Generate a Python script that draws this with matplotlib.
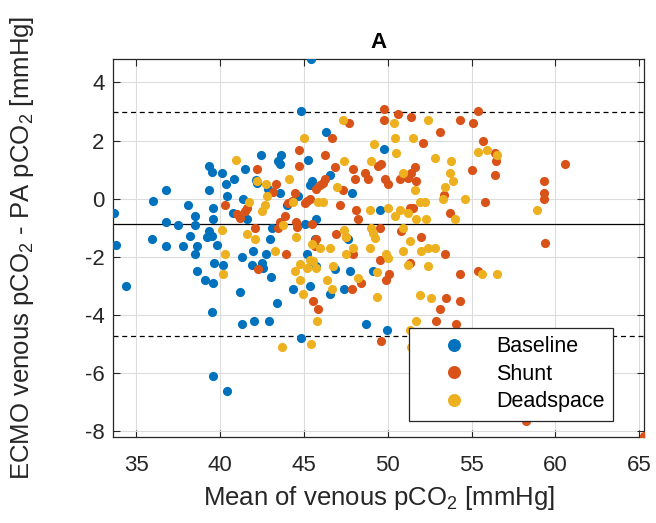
import numpy as np
import matplotlib
matplotlib.use("Agg")
from matplotlib import pyplot as plt

# Bland-Altman data (mean of venous pCO2, difference)
baseline_x = [
    33.65, 36.0, 36.8, 38.1, 36.8, 37.5, 35.95, 33.8, 36.8, 37.8, 34.4,
    45.45, 44.85, 46.3, 49.8,
    42.42, 43.61, 43.47, 43.57, 45.22, 39.35, 39.5, 40.14, 41.49, 40.83,
    46.55, 45.46, 45.36, 42.12, 42.18, 40.34, 47.88, 39.35, 40.44, 42.88,
    43.57, 44.66, 41.39, 43.97, 39.6, 38.51, 38.51, 40.79, 41.63, 39.6,
    49.56, 45.06, 45.71, 43.08, 38.21, 39.31, 39.5, 39.21, 42.98, 47.6,
    45.65, 38.61, 38.51, 39.8, 41.29, 41.98, 42.74, 45.16, 45.71, 39.64,
    40.2, 41.88, 42.48, 42.58, 38.61, 39.07, 39.6, 43.02, 41.19, 43.37,
    46.85, 47.74, 49.13, 45.36, 46.55, 47.38, 44.33, 45.45,
    39.5, 41.3, 42.0, 42.9, 39.6, 40.4, 48.7, 49.95, 44.8,
]
baseline_y = [
    -0.5, -0.09, 0.31, -0.2, -0.79, -0.9, -1.37, -1.6, -1.63, -1.63, -3.0,
    4.8, 3.0, 2.3, 1.7,
    1.52, 1.49, 1.29, 1.18, 1.32, 1.12, 0.92, 0.89, 1.01, 0.69,
    0.80, 0.61, 0.46, 0.66, 0.55, 0.51, 0.21, 0.30, 0.11, 0.32,
    0.20, 0.09, 0.0, -0.20, -0.31, -0.6, -0.92, -0.48, -0.71, -0.71,
    -0.40, -0.88, -0.69, -1.0, -1.28, -1.11, -1.28, -1.31, -1.40, -1.4,
    -1.4, -1.63, -1.91, -1.6, -1.99, -1.80, -1.91, -1.91, -2.32, -2.20,
    -2.29, -2.29, -2.20, -2.37, -2.49, -2.8, -2.91, -2.68, -3.21, -3.6,
    -2.43, -2.49, -2.49, -3.0, -3.29, -3.09, -3.09, -2.14,
    -3.9, -4.3, -4.2, -4.2, -6.1, -6.6, -4.3, -4.5, -4.8,
]

shunt_x = [
    47.7, 46.65, 49.8, 49.8, 50.6, 44.7,
    51.4, 54.3, 53.1, 52.1, 51.6, 51.4, 51.7, 53.35, 51.3, 51.5, 53.7,
    52.0, 53.4, 51.3, 54.3, 53.5, 54.3, 53.1, 52.9, 54.1, 51.2,
    55.4, 55.1, 55.7, 56.4, 56.45, 55.0, 56.4, 60.6, 59.3, 59.3, 59.3,
    55.8, 59.4, 55.4, 58.25, 65.3,
    46.23, 49.62, 49.42, 42.18, 44.72, 46.84, 47.94, 48.04, 48.63, 48.83,
    49.82, 50.02, 50.71, 46.25, 46.11, 45.95, 45.75, 43.33, 47.34, 43.17,
    44.46, 40.3, 41.59, 41.49, 44.27, 44.07, 45.16, 45.36, 45.06, 47.18,
    40.99, 41.19, 48.08, 48.23, 43.87, 43.57, 43.47, 44.52, 44.56, 45.46,
    42.08, 46.94, 49.52, 50.81, 45.75, 45.65, 43.91, 47.94, 49.52, 42.28,
    48.43, 50.08, 49.92, 47.84, 45.52, 45.85, 47.54,
    49.6,
]
shunt_y = [
    2.61, 2.09, 3.1, 2.7, 2.9, 1.69,
    2.8, 2.7, 2.3, 1.9, 1.09, 0.89, 0.6, 0.12, -0.31, -0.31, -0.5,
    -1.32, -1.89, -2.2, -2.6, -3.4, -3.52, -3.8, -4.2, -4.3, 0.7,
    3.01, 2.6, 2.0, 1.58, 1.29, 1.0, 0.8, 1.2, 0.6, 0.2, 0.0,
    -0.1, -1.51, -2.49, -7.64, -8.16,
    1.50, 1.18, 1.12, 1.01, 1.12, 1.1, 1.01, 0.69, 0.89, 0.69,
    0.69, 0.49, 0.69, 0.69, 0.55, 0.46, 0.34, 0.49, 0.30, 0.23,
    0.20, -0.20, -0.31, -0.43, -0.08, -0.14, -0.08, 0.0, -0.14, -0.20,
    -0.54, -0.65, -0.40, -0.69, -0.6, -0.8, -1.0, -0.8, -0.96, -0.88,
    -1.0, -1.2, -1.0, -1.11, -1.40, -1.63, -1.91, -1.91, -2.11, -2.40,
    -2.89, -2.6, -2.8, -3.09, -3.52, -3.78, -1.32,
    -4.9,
]

deadspace_x = [
    47.35, 45.0, 50.35, 50.45, 49.2,
    52.4, 51.5, 52.8, 53.8, 53.7, 53.9, 51.6, 53.4, 53.3, 51.9, 52.2,
    54.6, 54.0, 51.7, 52.3, 51.35, 52.0, 52.4, 52.8, 51.2, 52.4, 51.9,
    52.6, 51.7, 51.3, 51.4,
    55.4, 55.9, 56.5, 58.9, 55.6, 56.5,
    50.52, 40.93, 47.4, 49.03, 50.91, 44.11, 42.18, 42.74, 46.98, 42.82,
    41.75, 42.68, 42.48, 44.33, 45.85, 46.11, 48.97, 50.02, 50.42, 50.75,
    51.21, 43.73, 40.10, 41.59, 42.08, 44.52, 47.4, 47.54, 49.03, 49.13,
    49.23, 50.91, 45.46, 45.95, 46.55, 47.9, 48.93, 40.3, 43.27, 45.36,
    45.56, 47.5, 49.92, 50.02, 50.91, 40.16, 44.76, 44.46, 45.16, 45.75,
    46.75, 44.76, 48.23, 49.33, 46.35, 46.65, 44.96, 49.38,
    43.7, 45.8, 45.4,
]
deadspace_y = [
    2.7, 2.09, 2.59, 2.09, 1.89,
    2.7, 2.09, 1.39, 1.29, 0.89, 0.6, 0.29, 0.4, 0.0, -0.1, -0.1,
    0.0, -0.7, -0.7, -0.7, -1.45, -1.8, -1.71, -1.71, -2.29, -2.32, -3.31,
    -3.4, -4.2, -4.5, -5.1,
    1.61, 1.69, 1.5, -0.39, -2.6, -2.6,
    1.58, 1.32, 1.29, 1.29, 0.89, 0.69, 0.61, 0.49, 0.41, 0.11,
    -0.10, -0.20, -0.43, -0.10, -0.10, -0.10, -0.40, -0.31, -0.6, -0.40,
    -0.48, -0.92, -1.09, -1.2, -1.40, -1.31, -1.09, -1.31, -1.0, -1.17,
    -1.34, -1.0, -1.57, -1.69, -1.69, -1.69, -1.69, -1.91, -1.80, -2.09,
    -2.14, -1.91, -1.91, -2.03, -1.8, -2.60, -2.26, -2.49, -2.37, -2.37,
    -2.32, -2.8, -2.72, -2.52, -2.8, -3.09, -3.29, -3.38,
    -5.1, -4.2, -5.0,
]

# limits of agreement
bias = -0.865
upper_loa = 2.99
lower_loa = -4.72

group_names = ["Baseline", "Shunt", "Deadspace"]
group_colors = ["#0072BD", "#D95319", "#EDB120"]


def main():
    plt.rcParams["font.family"] = ["Liberation Sans", "DejaVu Sans"]
    plt.rcParams["mathtext.fontset"] = "custom"
    plt.rcParams["mathtext.rm"] = "Liberation Sans"
    plt.rcParams["mathtext.it"] = "Liberation Sans:italic"
    plt.rcParams["mathtext.bf"] = "Liberation Sans:bold"
    plt.rcParams["axes.unicode_minus"] = False

    fig = plt.figure(figsize=(6.56, 5.23), dpi=100)
    ax = fig.add_axes([0.172, 0.164, 0.81, 0.723])

    groups = [
        (baseline_x, baseline_y),
        (shunt_x, shunt_y),
        (deadspace_x, deadspace_y),
    ]
    for (gx, gy), name, col in zip(groups, group_names, group_colors):
        ax.plot(gx, gy, linestyle="none", marker="o", markersize=6.6,
                markeredgewidth=0, color=col, label=name, zorder=3)

    ax.axhline(bias, color="black", lw=0.9, zorder=2)
    ax.axhline(upper_loa, color="black", lw=0.9, ls=(0, (4, 3)), zorder=2)
    ax.axhline(lower_loa, color="black", lw=0.9, ls=(0, (4, 3)), zorder=2)

    ax.set_xlim(33.6, 65.3)
    ax.set_ylim(-8.2, 4.8)
    ax.set_xticks(np.arange(35, 66, 5))
    ax.set_yticks(np.arange(-8, 5, 2))
    ax.grid(True, color="#dcdcdc", lw=0.8, zorder=0)
    ax.set_axisbelow(True)
    ax.tick_params(direction="in", top=True, right=True, length=5,
                   width=0.8, labelsize=16, colors="#262626",
                   labelcolor="#262626")
    ax.tick_params(axis="x", pad=13)
    ax.tick_params(axis="y", pad=6)
    for s in ax.spines.values():
        s.set_color("#262626")
        s.set_linewidth(0.9)

    ax.set_xlabel("Mean of venous pCO$_2$ [mmHg]", fontsize=18.5,
                  color="#262626")
    ax.set_ylabel("ECMO venous pCO$_2$ - PA pCO$_2$ [mmHg]", fontsize=18.5,
                  color="#262626")
    ax.xaxis.set_label_coords(0.5, -0.125)
    ax.yaxis.set_label_coords(-0.145, 0.5)
    ax.set_title("A", fontsize=16, fontweight="bold", pad=8)

    leg = ax.legend(loc="lower right", bbox_to_anchor=(0.9416, 0.043),
                    fontsize=15.5, markerscale=1.42, handlelength=3.4,
                    handletextpad=0.25, labelspacing=0.3, borderpad=0.4,
                    borderaxespad=0, fancybox=False, framealpha=1,
                    edgecolor="#262626")
    leg.get_frame().set_linewidth(0.9)

    fig.savefig("out.png", dpi=100, facecolor="white")


if __name__ == "__main__":
    main()
